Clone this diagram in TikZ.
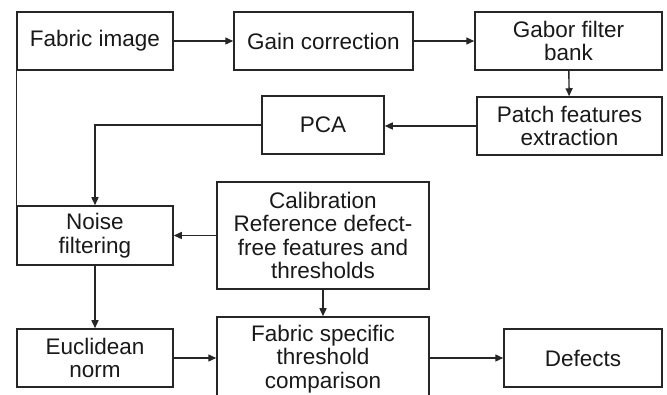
\documentclass[tikz,border=0pt]{standalone}
\usepackage{fontspec}
\setmainfont{Liberation Sans}
\usetikzlibrary{arrows.meta}
\begin{document}
\begin{tikzpicture}[x=1pt,y=-1pt,
  blk/.style={draw=black!85,line width=1.5pt,inner sep=0pt,align=center,
    font=\fontsize{22.5}{23.5}\selectfont,text=black!90},
  flow/.style={draw=black!85,line width=1.4pt,-{Triangle[length=8pt,width=7pt]}},
  link/.style={draw=black!85,line width=1.4pt}]
\useasboundingbox (0,0) rectangle (667,395);
\clip (0,0) rectangle (667,395);
% process blocks (centre, size)
\node[blk,minimum width=156pt,minimum height=58pt] (fab)   at (95,41)    {Fabric image};
\node[blk,minimum width=179pt,minimum height=58pt] (gain)  at (323.5,41) {Gain correction};
\node[blk,minimum width=187pt,minimum height=58pt] (gabor) at (568.5,41) {Gabor filter\\bank};
\node[blk,minimum width=185pt,minimum height=58pt] (patch) at (569.5,126){Patch features\\extraction};
\node[blk,minimum width=122pt,minimum height=58pt] (pca)   at (323,125)  {PCA};
\node[blk,minimum width=212pt,minimum height=107pt] (cal)  at (323,235.5){Calibration\\Reference defect-\\free features and\\thresholds};
\node[blk,minimum width=156pt,minimum height=59pt] (noise) at (95,235.5) {Noise\\filtering};
\node[blk,minimum width=156pt,minimum height=58pt] (eucl)  at (95,358)   {Euclidean\\norm};
\node[blk,minimum width=212pt,minimum height=84pt] (cmp)   at (323,359)  {Fabric specific\\threshold\\comparison};
\node[blk,minimum width=158pt,minimum height=58pt] (def)   at (583,358)  {Defects};
% connectors
\draw[flow] (fab) -- (gain);
\draw[flow] (gain) -- (gabor);
\draw[flow] (gabor) -- (patch);
\draw[flow] (patch.west) -- (pca.east|-patch.west);
\draw[flow] (pca.west) -| (noise.north);
\draw[link] (fab.south west) -- (noise.north west);
\draw[flow] (cal.west) -- (noise.east);
\draw[flow] (noise) -- (eucl);
\draw[flow] (cal) -- (cmp);
\draw[flow] (eucl.east) -- (cmp.west|-eucl.east);
\draw[flow] (cmp.east|-def.west) -- (def.west);
\end{tikzpicture}
\end{document}
